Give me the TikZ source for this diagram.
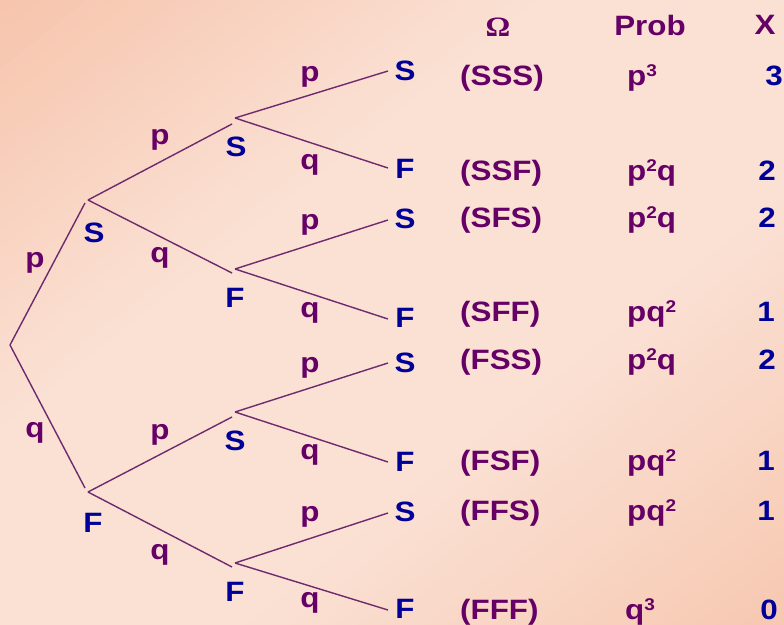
\documentclass[tikz,border=0pt]{standalone}
\usepackage{fontspec}
\setmainfont{Liberation Sans}[FakeStretch=1.12]
\newfontfamily\omegafont{Liberation Serif}[FakeStretch=1.1]
\definecolor{pur}{HTML}{660066}
\definecolor{blu}{HTML}{000099}
\definecolor{edgecol}{HTML}{6E2A6E}
\definecolor{bgA}{HTML}{F7C4AC}
\definecolor{bgB}{HTML}{FAE1D4}
\definecolor{bgC}{HTML}{F7C8B1}
\newcommand\supx[1]{\raisebox{8.5pt}{\fontsize{17}{17}\selectfont #1}}
\begin{document}
\begin{tikzpicture}[x=1pt,y=-1pt,
  lab/.style={font=\fontsize{28}{28}\selectfont\bfseries, inner sep=0pt},
  st/.style={lab, text=blu},
  pq/.style={lab, text=pur},
  row/.style={lab, text=pur, anchor=base west},
  num/.style={lab, text=blu, anchor=base},
  br/.style={draw=edgecol, line width=1.4pt},
]
\useasboundingbox (0,0) rectangle (784,624);
% background: diagonal gradient, orange at top-left and bottom-right corners
\begin{scope}
\clip (0,0) rectangle (784,624);
\fill[bgB] (0,0) rectangle (784,624);
\foreach \i in {0,...,69}{
  \pgfmathsetmacro\ta{-490+\i*14}
  \pgfmathsetmacro\tb{\ta+15}
  \pgfmathsetmacro\tm{\ta+7}
  \pgfmathtruncatemacro\f{100*max(0,min(1,(abs(\tm)-150)/338))}
  \ifdim\tm pt<0pt\colorlet{endc}{bgA}\else\colorlet{endc}{bgC}\fi
  \fill[endc!\f!bgB]
    ({392+\ta*0.6225+520*0.7826},{312+\ta*0.7826-520*0.6225}) --
    ({392+\tb*0.6225+520*0.7826},{312+\tb*0.7826-520*0.6225}) --
    ({392+\tb*0.6225-520*0.7826},{312+\tb*0.7826+520*0.6225}) --
    ({392+\ta*0.6225-520*0.7826},{312+\ta*0.7826+520*0.6225}) -- cycle;
}
\end{scope}

% junction points
\coordinate (R) at (10,345);
\coordinate (S1i) at (85,203); \coordinate (S1o) at (88,200);
\coordinate (F1i) at (85,488); \coordinate (F1o) at (88,492);
\coordinate (S2i) at (232,124); \coordinate (S2o) at (235,118);
\coordinate (F2i) at (232,273); \coordinate (F2o) at (235,269);
\coordinate (S3i) at (232,417); \coordinate (S3o) at (235,412);
\coordinate (F3i) at (232,567); \coordinate (F3o) at (235,563);
\coordinate (L1) at (388,71);
\coordinate (L2) at (388,168);
\coordinate (L3) at (388,220);
\coordinate (L4) at (388,319);
\coordinate (L5) at (388,363);
\coordinate (L6) at (388,462);
\coordinate (L7) at (388,513);
\coordinate (L8) at (388,610);

% branches
\draw[br] (R) -- (S1i);
\draw[br] (R) -- (F1i);
\draw[br] (S1o) -- (S2i);
\draw[br] (S1o) -- (F2i);
\draw[br] (F1o) -- (S3i);
\draw[br] (F1o) -- (F3i);
\draw[br] (S2o) -- (L1);
\draw[br] (S2o) -- (L2);
\draw[br] (F2o) -- (L3);
\draw[br] (F2o) -- (L4);
\draw[br] (S3o) -- (L5);
\draw[br] (S3o) -- (L6);
\draw[br] (F3o) -- (L7);
\draw[br] (F3o) -- (L8);

% branch probabilities
\node[pq] (e1) at (35,263) {p};
\node[pq] (e2) at (35,433) {q};
\node[pq] (e3) at (160,140) {p};
\node[pq] (e4) at (160,258) {q};
\node[pq] (e5) at (160,435) {p};
\node[pq] (e6) at (160,555) {q};
\node[pq] (e7) at (310,77) {p};
\node[pq] (e8) at (310,165) {q};
\node[pq] (e9) at (310,225) {p};
\node[pq] (e10) at (310,313) {q};
\node[pq] (e11) at (310,368) {p};
\node[pq] (e12) at (310,455) {q};
\node[pq] (e13) at (310,517) {p};
\node[pq] (e14) at (310,603) {q};

% outcome letters
\node[st] (nS1) at (94,233) {S};
\node[st] (nF1) at (93,523) {F};
\node[st] (nS2) at (236,147) {S};
\node[st] (nF2) at (235,298) {F};
\node[st] (nS3) at (235,441) {S};
\node[st] (nF3) at (235,592) {F};
\node[st] (l1) at (405,71) {S};
\node[st] (l2) at (405,169) {F};
\node[st] (l3) at (405,219) {S};
\node[st] (l4) at (405,318) {F};
\node[st] (l5) at (405,363) {S};
\node[st] (l6) at (405,462) {F};
\node[st] (l7) at (405,512) {S};
\node[st] (l8) at (405,609) {F};

% headers
\node[inner sep=0pt, text=pur, font=\fontsize{28}{28}\selectfont\omegafont\bfseries] (hO) at (498,27) {Ω};
\node[pq] (hP) at (650,25) {Prob};
\node[pq] (hX) at (765,25) {X};

% table rows
\node[row] (o1) at (460,85) {(SSS)};
\node[row] (o2) at (460,180) {(SSF)};
\node[row] (o3) at (460,227) {(SFS)};
\node[row] (o4) at (460,321) {(SFF)};
\node[row] (o5) at (460,369) {(FSS)};
\node[row] (o6) at (460,470) {(FSF)};
\node[row] (o7) at (460,520) {(FFS)};
\node[row] (o8) at (460,619) {(FFF)};

\node[row] (p1) at (627,85) {p\supx{3}};
\node[row] (p2) at (627,180) {p\supx{2}q};
\node[row] (p3) at (627,227) {p\supx{2}q};
\node[row] (p4) at (627,321) {pq\supx{2}};
\node[row] (p5) at (627,369) {p\supx{2}q};
\node[row] (p6) at (627,470) {pq\supx{2}};
\node[row] (p7) at (627,520) {pq\supx{2}};
\node[row] (p8) at (625,619) {q\supx{3}};

\node[num] (x1) at (774,85) {3};
\node[num] (x2) at (767,180) {2};
\node[num] (x3) at (767,227) {2};
\node[num] (x4) at (766,321) {1};
\node[num] (x5) at (767,369) {2};
\node[num] (x6) at (766,470) {1};
\node[num] (x7) at (766,520) {1};
\node[num] (x8) at (769,619) {0};
\end{tikzpicture}
\end{document}
